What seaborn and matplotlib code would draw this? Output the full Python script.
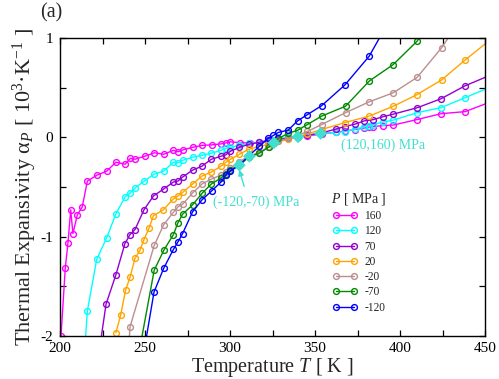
import numpy as np
import pandas as pd
import matplotlib
matplotlib.use("Agg")
import matplotlib.pyplot as plt
import seaborn as sns
from matplotlib.ticker import MultipleLocator

# ---------------- data ----------------
pressures = ["160", "120", "70", "20", "-20", "-70", "-120"]
colors = ["#ff00ff", "#00ffff", "#9400d3", "#ffa500", "#bc8f8f", "#008b00", "#0000ff"]

T_160 = [200.6, 203.1, 204.7, 206.3, 207.6, 210.2, 213.1, 216.1, 221.8, 227.5, 232.9, 238.4,
         241.4, 244.1, 249.8, 255.5, 261.0, 266.7, 269.4, 272.4, 278.0, 283.5, 289.3, 294.8,
         297.6, 300.2, 306.0, 311.8, 317.3, 322.5, 328.4, 334.3, 339.8, 345.5, 353.9, 362.4,
         367.6, 373.5, 379.0, 381.9, 384.3, 390.2, 396.1, 410.0, 424.3, 438.2, 452.0]
A_160 = [-2.00, -1.32, -1.06, -0.73, -0.97, -0.78, -0.70, -0.44, -0.38, -0.34, -0.25, -0.27,
         -0.21, -0.22, -0.19, -0.155, -0.17, -0.13, -0.145, -0.125, -0.10, -0.08, -0.075, -0.065,
         -0.055, -0.044, -0.054, -0.054, -0.050, -0.035, -0.02, -0.005, 0.005, 0.013, 0.035, 0.053,
         0.065, 0.08, 0.095, 0.105, 0.11, 0.12, 0.125, 0.18, 0.24, 0.26, 0.35]

T_120 = [213.5, 216.1, 221.6, 227.5, 232.9, 238.3, 241.3, 244.1, 249.6, 255.4, 261.0, 266.7,
         269.4, 272.3, 278.0, 283.5, 289.0, 294.7, 297.6, 300.2, 305.5, 311.0, 317.0, 322.5,
         328.4, 334.3, 339.8, 345.5, 353.9, 362.4, 367.6, 373.5, 379.0, 381.9, 384.3, 390.2,
         396.1, 410.2, 424.1, 438.2, 452.0]
A_120 = [-2.40, -1.75, -1.23, -1.01, -0.77, -0.60, -0.56, -0.51, -0.44, -0.37, -0.34, -0.25,
         -0.255, -0.23, -0.20, -0.18, -0.16, -0.13, -0.11, -0.10, -0.08, -0.06, -0.05, -0.035,
         -0.01, 0.0, 0.01, 0.02, 0.04, 0.05, 0.058, 0.085, 0.105, 0.12, 0.13, 0.155,
         0.175, 0.25, 0.30, 0.40, 0.50]

T_70 = [221.0, 227.1, 232.8, 238.2, 241.2, 244.1, 249.4, 255.0, 261.0, 266.7, 269.4, 272.1,
        278.0, 283.5, 289.0, 294.7, 297.6, 300.2, 305.5, 311.0, 317.0, 322.5, 328.4, 334.3,
        339.8, 345.5, 353.9, 362.4, 367.6, 373.5, 379.0, 384.3, 390.2, 396.1, 410.2, 424.1,
        438.2, 452.0]
A_70 = [-2.40, -1.68, -1.39, -1.07, -0.98, -0.93, -0.73, -0.59, -0.52, -0.45, -0.44, -0.40,
        -0.33, -0.29, -0.22, -0.19, -0.175, -0.14, -0.10, -0.07, -0.05, -0.03, -0.02, -0.01,
        0.006, 0.023, 0.045, 0.085, 0.11, 0.134, 0.167, 0.18, 0.21, 0.235, 0.30, 0.39,
        0.52, 0.62]

T_20 = [232.9, 235.7, 238.6, 241.2, 244.1, 247.0, 249.4, 252.5, 254.9, 260.8, 266.7, 269.4,
        272.1, 278.0, 283.5, 289.0, 294.7, 297.6, 300.2, 305.5, 311.0, 317.0, 322.5, 325.7,
        328.4, 334.3, 339.8, 345.5, 353.9, 367.6, 381.9, 396.1, 409.8, 424.5, 438.2, 452.0]
A_20 = [-1.97, -1.79, -1.54, -1.41, -1.22, -1.14, -1.03, -0.91, -0.79, -0.73, -0.62, -0.59,
        -0.555, -0.47, -0.39, -0.35, -0.29, -0.25, -0.22, -0.17, -0.12, -0.09, -0.07, -0.055,
        -0.04, -0.02, 0.006, 0.035, 0.08, 0.15, 0.215, 0.315, 0.43, 0.58, 0.78, 0.97]

T_m20 = [238.5, 241.2, 255.4, 261.0, 266.7, 269.4, 272.1, 278.0, 283.5, 289.0, 294.7, 297.6,
         300.2, 305.5, 311.0, 317.0, 322.5, 325.7, 328.4, 334.3, 339.8, 345.5, 353.9, 368.0,
         382.0, 396.0, 410.0, 424.5, 438.0]
A_m20 = [-2.60, -1.91, -1.09, -0.88, -0.755, -0.70, -0.675, -0.56, -0.47, -0.42, -0.38, -0.35,
         -0.31, -0.245, -0.19, -0.15, -0.10, -0.055, -0.035, -0.01, 0.02, 0.06, 0.13, 0.25,
         0.36, 0.45, 0.605, 0.905, 1.25]

T_m70 = [244.0, 255.4, 261.0, 266.7, 269.4, 272.1, 278.0, 283.5, 289.0, 294.7, 297.6, 300.2,
         305.5, 311.0, 317.2, 323.0, 328.4, 334.3, 339.8, 345.5, 353.9, 368.0, 382.0, 396.0,
         410.0, 424.0]
A_m70 = [-2.40, -1.34, -1.14, -0.98, -0.86, -0.775, -0.68, -0.565, -0.47, -0.41, -0.37, -0.33,
         -0.28, -0.20, -0.16, -0.095, -0.01, 0.04, 0.073, 0.13, 0.215, 0.315, 0.57, 0.735,
         0.97, 1.30]

T_m120 = [248.0, 255.3, 261.0, 266.7, 269.5, 272.1, 278.0, 283.5, 289.2, 294.7, 297.6, 300.2,
          305.5, 311.4, 317.2, 322.5, 325.5, 328.4, 334.3, 339.8, 345.5, 353.9, 367.6, 381.9,
          396.0]
A_m120 = [-2.30, -1.56, -1.32, -1.13, -1.05, -0.97, -0.75, -0.63, -0.54, -0.45, -0.38, -0.34,
          -0.28, -0.18, -0.09, -0.01, 0.02, 0.05, 0.075, 0.168, 0.23, 0.32, 0.53, 0.82,
          1.25]

T_series = [T_160, T_120, T_70, T_20, T_m20, T_m70, T_m120]
A_series = [A_160, A_120, A_70, A_20, A_m20, A_m70, A_m120]

# crossing points (diamonds)
cross_T = [305.5, 311.4, 325.8, 340.0, 353.3]
cross_A = [-0.28, -0.19, -0.054, 0.006, 0.04]

# ---------------- style ----------------
sns.set_style("ticks")
plt.rcParams["font.family"] = ["Liberation Serif", "DejaVu Serif"]
plt.rcParams["mathtext.fontset"] = "custom"
plt.rcParams["mathtext.rm"] = "Liberation Serif"
plt.rcParams["mathtext.it"] = "Liberation Serif:italic"
plt.rcParams["mathtext.bf"] = "Liberation Serif:bold"
plt.rcParams["axes.unicode_minus"] = False

fig = plt.figure(figsize=(4.99, 3.79), dpi=100)
ax = fig.add_axes([60 / 499, 1 - 335.7 / 379, 425 / 499, (335.7 - 38.3) / 379])

for p, c, Ts, As in zip(pressures, colors, T_series, A_series):
    df = pd.DataFrame({"T": Ts, "alpha": As})
    sns.lineplot(data=df, x="T", y="alpha", ax=ax, color=c, lw=1.0,
                 marker="o", markersize=4.2, markerfacecolor="none",
                 markeredgecolor=c, markeredgewidth=1.0, label=p,
                 estimator=None, sort=True)

sns.scatterplot(x=cross_T, y=cross_A, ax=ax, marker="D", s=42, color="#40e0d0",
                edgecolor="none", zorder=5, legend=False)

ax.set_xlim(200, 450)
ax.set_ylim(-2, 1)
ax.xaxis.set_major_locator(MultipleLocator(50))
ax.xaxis.set_minor_locator(MultipleLocator(25))
ax.yaxis.set_major_locator(MultipleLocator(1))
ax.yaxis.set_minor_locator(MultipleLocator(0.5))
ax.tick_params(which="both", direction="in", top=True, right=True, length=4.5,
               width=0.9, labelsize=11, colors="black")
ax.tick_params(axis="x", pad=4.5)
ax.tick_params(axis="y", pad=5)
for s in ax.spines.values():
    s.set_linewidth(1.0)
    s.set_color("black")

ax.set_xlabel("Temperature $T$ [ K ]", fontsize=14.5, labelpad=1)
ax.set_ylabel(r"Thermal Expansivity α$_{P}$ [ 10$^{3}$·K$^{-1}$ ]", fontsize=16, labelpad=1)

leg = ax.legend(title="$P$ [ MPa ]", loc="upper left", bbox_to_anchor=(331 / 499, 1 - 191 / 379),
                bbox_transform=fig.transFigure, frameon=False, fontsize=8.3,
                title_fontsize=10, numpoints=2, handlelength=2.2, handletextpad=0.6,
                labelspacing=0.28, borderpad=0, borderaxespad=0)

ax.text(365.3, -0.08, "(120,160) MPa", color="#40e0d0", fontsize=10, va="center", ha="left")
ax.text(289.8, -0.65, "(-120,-70) MPa", color="#40e0d0", fontsize=10, va="center", ha="left")
ax.annotate("", xy=(305.0, -0.30), xytext=(308.8, -0.52),
            arrowprops=dict(arrowstyle="-|>", color="#40e0d0", lw=1.0, mutation_scale=8))

fig.text(51 / 499, 1 - 13 / 379, "(a)", fontsize=14.5, ha="center", va="center")

fig.savefig("out.png", dpi=100)
